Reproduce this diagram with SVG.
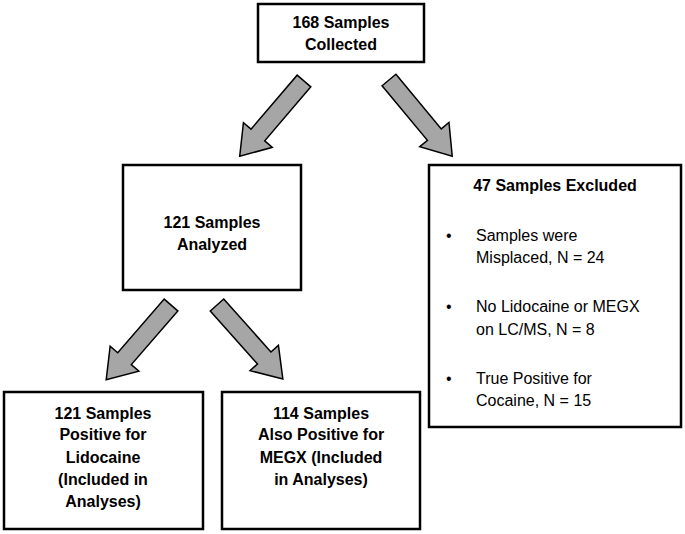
<svg xmlns="http://www.w3.org/2000/svg" width="685" height="534" viewBox="0 0 685 534">
<style>
.b{fill:#fff;stroke:#000;stroke-width:2.5}
.t{font-family:"Liberation Sans",Arial,sans-serif;font-size:16px;fill:#000}
.h{font-weight:bold;text-anchor:middle}
.ar{fill:#a6a6a6;stroke:#000;stroke-width:1.5;stroke-linejoin:miter}
</style>
<defs><polygon id="arw" points="0,-9 71,-9 71,-19 99,0 71,19 71,9 0,9"/></defs>
<g id="n1"><rect class="b" x="258" y="4" width="166" height="58"/>
<text class="t h" x="341" y="28">168 Samples</text><text class="t h" x="341" y="50">Collected</text></g>
<g id="n2"><rect class="b" x="123" y="165" width="178" height="125"/>
<text class="t h" x="212" y="228">121 Samples</text><text class="t h" x="212" y="250">Analyzed</text></g>
<g id="n3"><rect class="b" x="429" y="165" width="252" height="262"/>
<text class="t h" x="555" y="191">47 Samples Excluded</text>
<g class="t"><text x="446" y="241">•</text><text x="476" y="241">Samples were</text><text x="476" y="263">Misplaced, N = 24</text>
<text x="446" y="312">•</text><text x="476" y="312">No Lidocaine or MEGX</text><text x="476" y="335">on LC/MS, N = 8</text>
<text x="446" y="384">•</text><text x="476" y="384">True Positive for</text><text x="476" y="406">Cocaine, N = 15</text></g></g>
<g id="n4"><rect class="b" x="4" y="392" width="199" height="137"/>
<text class="t h" x="103" y="419">121 Samples</text><text class="t h" x="103" y="440">Positive for</text><text class="t h" x="103" y="463">Lidocaine</text><text class="t h" x="103" y="485">(Included in</text><text class="t h" x="103" y="507">Analyses)</text></g>
<g id="n5"><rect class="b" x="222" y="392" width="198" height="137"/>
<text class="t h" x="321" y="419">114 Samples</text><text class="t h" x="321" y="440">Also Positive for</text><text class="t h" x="321" y="463">MEGX (Included</text><text class="t h" x="321" y="485">in Analyses)</text></g>
<g id="connectors">
<use href="#arw" class="ar" transform="translate(304,81) rotate(130.5)"/>
<use href="#arw" class="ar" transform="translate(389,80) rotate(50.3)"/>
<use href="#arw" class="ar" transform="translate(171,305) rotate(130.9)"/>
<use href="#arw" class="ar" transform="translate(217,305) rotate(48.3)"/>
</g>
</svg>
